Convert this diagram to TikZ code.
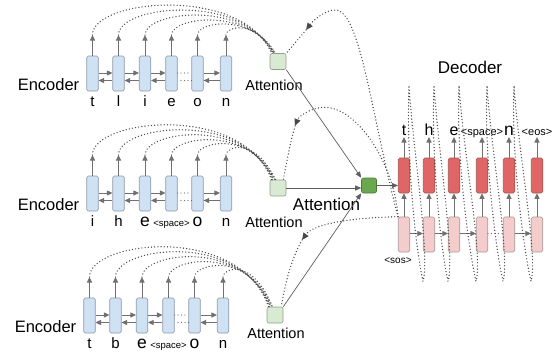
\documentclass[tikz,border=0pt]{standalone}
\usepackage{fontspec}
\setmainfont{Liberation Sans}
\usetikzlibrary{arrows.meta,calc}
\definecolor{encfill}{HTML}{CFE2F3}
\definecolor{encdraw}{HTML}{8C98A8}
\definecolor{redfill}{HTML}{E06666}
\definecolor{reddraw}{HTML}{A65555}
\definecolor{pinkfill}{HTML}{F4CCCC}
\definecolor{pinkdraw}{HTML}{A89A9A}
\definecolor{attfill}{HTML}{D9EAD3}
\definecolor{attdraw}{HTML}{8FA08A}
\definecolor{dgfill}{HTML}{6AA84F}
\definecolor{dgdraw}{HTML}{4A7A36}
\definecolor{arrgray}{HTML}{707070}
\definecolor{dotgray}{HTML}{484848}
\definecolor{lingray}{HTML}{5E5E5E}
\newcommand\tagtxt[2]{{\fontsize{#1}{#1}\selectfont #2}}
\begin{document}
\begin{tikzpicture}[x=1pt,y=-1pt,
  cell/.style={rounded corners=1.5pt, minimum width=11.5pt, minimum height=35pt, inner sep=0pt, line width=0.6pt},
  enc/.style={cell, draw=encdraw, fill=encfill},
  dred/.style={cell, draw=reddraw, fill=redfill},
  dpink/.style={cell, draw=pinkdraw, fill=pinkfill},
  attbox/.style={draw=attdraw, fill=attfill, rounded corners=2pt, minimum size=16pt, inner sep=0pt, line width=0.6pt},
  dgbox/.style={draw=dgdraw, fill=dgfill, rounded corners=2pt, minimum size=15pt, inner sep=0pt, line width=0.6pt},
  arr/.style={draw=arrgray, line width=0.9pt, -{Triangle[length=5.5pt,width=5pt]}},
  conn/.style={draw=lingray, line width=0.7pt, -{Triangle[length=6pt,width=5pt]}},
  dots/.style={draw=dotgray, line width=1.4pt, line cap=round, dash pattern=on 0pt off 3.2pt},
  dotarr/.style={dots, -{Triangle[length=7pt,width=6pt]}},
  hdots/.style={draw=arrgray, line width=1.2pt, line cap=round, dash pattern=on 0pt off 3.5pt},
  lab/.style={inner sep=0pt, font=\fontsize{15}{15}\selectfont, anchor=base},
  olab/.style={inner sep=0pt, font=\fontsize{16}{16}\selectfont, anchor=base},
  biglab/.style={inner sep=0pt, font=\fontsize{16.5}{16.5}\selectfont, anchor=base},
  alab/.style={inner sep=0pt, font=\fontsize{14.5}{14.5}\selectfont, anchor=base}]
\useasboundingbox (0,0) rectangle (560,354);
\fill[white] (0,0) rectangle (560,354);

% ---------------- encoders ----------------
\foreach \r/\dx/\cy in {a/0/73.5, b/0/193.5, c/-3/315.5} {
  \foreach \i/\x in {1/92.5,2/118.5,3/145,4/171.5,5/197.5,6/226} {
    \pgfmathsetmacro\xx{\x+\dx}
    \node[enc] (\r\i) at (\xx,\cy) {};
    \coordinate (\r T\i) at (\xx,\cy-38.5);
    \draw[arr] (\r\i.north) -- (\r T\i);
  }
  \foreach \i/\j in {1/2,2/3,3/4,5/6} {
    \draw[arr] ([yshift=0.5pt]\r\i.east) -- ([yshift=0.5pt]\r\j.west);
    \draw[arr] ([yshift=-7pt]\r\j.west) -- ([yshift=-7pt]\r\i.east);
  }
  \draw[hdots] ([yshift=0.5pt]\r4.east) -- ([yshift=0.5pt]\r5.west);
  \draw[hdots] ([yshift=-7pt]\r5.west) -- ([yshift=-7pt]\r4.east);
  \node[biglab, anchor=base east] (\r E) at ($(\r1.south west)+(-7,-1)$) {Encoder};
}
\foreach \i/\t in {1/t,2/l,3/i,4/e,5/o,6/n}
  \node[lab] (aL\i) at ($(a\i.south)+(0,15)$) {\t};
\foreach \i/\t in {1/i,2/h,3/\tagtxt{17.5}{e},4/\tagtxt{9.5}{<space>},5/\tagtxt{17.5}{o},6/n}
  \node[lab] (bL\i) at ($(b\i.south)+(0,15)$) {\t};
\foreach \i/\t in {1/t,2/b,3/\tagtxt{17.5}{e},4/\tagtxt{9.5}{<space>},5/\tagtxt{17.5}{o},6/n}
  \node[lab] (cL\i) at ($(c\i.south)+(0,15)$) {\t};

% ---------------- attention boxes ----------------
\node[attbox] (atta) at (278,61.5) {};
\node[attbox] (attb) at (278,188) {};
\node[attbox] (attc) at (275,315) {};
\node[alab] (attaL) at (274,90) {Attention};
\node[alab] (attbL) at (274,227) {Attention};
\node[alab] (attcL) at (276,338) {Attention};

% arcs from encoder outputs to attention
\foreach \r/\D in {a/18,b/25,c/30}
  \foreach \i/\q in {1/30,2/25,3/20,4/15,5/11,6/7}
    \draw[dots] (\r T\i) .. controls ($(\r T\i)+(0,-1.2*\q)$) and ($(att\r.north west)+(-30+2.5*\i,-1.467*\q-1.333*\D)$) .. ($(att\r.north west)+(1+0.8*\i,0)$);

% ---------------- decoder ----------------
\foreach \i/\x in {1/404,2/429,3/454,4/482,5/509,6/537} {
  \node[dred] (r\i) at (\x,175.5) {};
  \node[dpink] (p\i) at (\x,234.5) {};
  \draw[arr] (p\i.north) -- (r\i.south);
  \coordinate (rT\i) at (\x,137);
  \draw[arr] (r\i.north) -- (rT\i);
}
\foreach \i/\t in {1/t,2/h,3/e,4/\tagtxt{11}{<space>},5/\tagtxt{17.5}{n},6/\tagtxt{11}{<eos>}}
  \node[olab] (o\i) at ($(rT\i)+(0,-2)$) {\t};
\foreach \i/\j in {1/2,2/3,3/4,5/6}
  \draw[arr] ([yshift=1pt]p\i.east) -- ([yshift=1pt]p\j.west);
\draw[hdots] ([yshift=1pt]p4.east) -- ([yshift=1pt]p5.west);
\node[inner sep=0pt, font=\fontsize{10}{10}\selectfont] (sos) at (398,261) {<sos>};
\node[biglab, font=\fontsize{17}{17}\selectfont] (dec) at (470,73) {Decoder};

% decoder loops (output fed to next input)
\foreach \i/\j in {1/2,2/3,3/4,4/5,5/6} {
  \coordinate (lt\i) at ($(r\i.north)+(5,-71)$);
  \coordinate (lb\i) at ($(p\j.south)+(-6,29)$);
  \draw[dots] (lt\i) .. controls ($(lt\i)+(-3,70)$) and ($(lb\i)+(-7,-30)$) .. (lb\i)
     .. controls ($(lb\i)+(7,-25)$) and ($(lt\i)+(5,70)$) .. (lt\i);
}

% central attention
\node[dgbox] (dg) at (369,185.5) {};
\node[biglab, font=\fontsize{17}{17}\selectfont] (attbig) at (326.5,210) {Attention};
\draw[conn] (atta.south east) -- (dg.north west);
\draw[conn] (attb.east) -- (attb.east -| dg.west);
\draw[conn] (attc.north east) -- (dg.south west);
\draw[conn] (dg.east) -- (dg.east -| r1.west);

% decoder state fed back to the attentions
\coordinate (fa) at (306,30);
\coordinate (fb) at (295,126);
\coordinate (fc) at (302,240);
\draw[dotarr] (p1.north west) .. controls (370,110) and (360,5) .. (333,10) .. controls (322,12) and (312,22) .. (fa);
\draw[dots] (fa) -- (atta.north east);
\draw[dotarr] (p1.north west) .. controls (395,165) and (355,100) .. (318,108) .. controls (305,111) and (298,118) .. (fb);
\draw[dots] (fb) .. controls (290,145) .. ([xshift=-3pt]attb.north east);
\draw[dotarr] (p1.north west) .. controls (340,218) and (312,226) .. (fc);
\draw[dots] (fc) .. controls (290,262) and (285,285) .. ([xshift=-2pt]attc.north east);
\end{tikzpicture}
\end{document}
